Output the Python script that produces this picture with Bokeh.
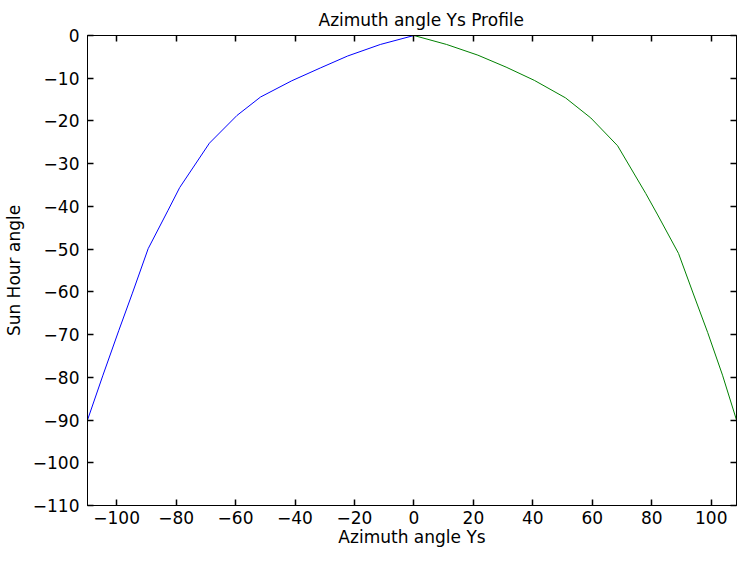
from bokeh.plotting import figure
from bokeh.models import Range1d, LinearAxis, FixedTicker
from bokeh.embed import file_html
from bokeh.resources import INLINE

# Data
blue_x = [-109.8, -104.6, -99.3, -94.7, -89.4, -82.7, -78.8, -68.8, -59.5, -51.6, -41.1, -31.5, -22.3, -11.3, 0]
blue_y = [-90, -79.5, -69.1, -60.3, -49.9, -40.9, -35.6, -25.2, -18.7, -14.4, -10.6, -7.6, -4.8, -2.1, 0]
green_x = [0, 11, 21.5, 31, 40.5, 51, 59.5, 68.5, 78, 82, 89, 94, 98.8, 103.8, 108.5]
green_y = [0, -2.1, -4.6, -7.4, -10.5, -14.6, -19.3, -25.8, -37, -42, -51, -60.5, -69.5, -79.5, -90]

x_ticks = [-100, -80, -60, -40, -20, 0, 20, 40, 60, 80, 100]
y_ticks = [0, -10, -20, -30, -40, -50, -60, -70, -80, -90, -100, -110]

title_text = "Azimuth angle Ys Profile"
x_label = "Azimuth angle Ys"
y_label = "Sun Hour angle"

FONT = "DejaVu Sans"
FS = "17px"

p = figure(width=737, height=549, output_backend="svg", toolbar_location=None,
           x_range=Range1d(-109.8, 108.5), y_range=Range1d(-110, 0),
           x_axis_location=None, y_axis_location=None,
           min_border_left=87, min_border_right=1, min_border_top=35, min_border_bottom=44)

p.title.text = title_text
p.title.align = "left"
p.title.offset = 231
p.title.text_font = FONT
p.title.text_font_size = FS
p.title.text_font_style = "normal"
p.title.text_color = "black"
p.title.standoff = 11

p.background_fill_color = "white"
p.border_fill_color = "white"
p.outline_line_color = "black"
p.outline_line_width = 1
p.xgrid.visible = False
p.ygrid.visible = False


def style(ax, ticks, labels=True):
    ax.ticker = FixedTicker(ticks=ticks)
    ax.major_tick_in = 6
    ax.major_tick_out = 0
    ax.major_tick_line_width = 1.5
    ax.minor_tick_line_color = None
    ax.axis_line_color = "black"
    ax.axis_line_width = 1
    ax.major_tick_line_color = "black"
    ax.major_label_text_font = FONT
    if labels:
        ax.major_label_text_font_size = FS
        ax.major_label_text_color = "black"
        ax.major_label_standoff = 8
    else:
        ax.major_label_text_font_size = "1px"
        ax.major_label_text_color = None
        ax.major_label_standoff = 0
    ax.axis_label_text_font = FONT
    ax.axis_label_text_font_size = FS
    ax.axis_label_text_font_style = "normal"
    ax.axis_label_text_color = "black"


bottom = LinearAxis(axis_label=x_label)
style(bottom, x_ticks)
bottom.major_label_standoff = 5
bottom.axis_label_standoff = 0
p.add_layout(bottom, "below")

left = LinearAxis(axis_label=y_label)
style(left, y_ticks)
left.axis_label_standoff = 6
p.add_layout(left, "left")

top = LinearAxis()
style(top, x_ticks, labels=False)
p.add_layout(top, "above")

right = LinearAxis()
style(right, y_ticks, labels=False)
p.add_layout(right, "right")

p.line(blue_x, blue_y, line_color="#0000ff", line_width=1)
p.line(green_x, green_y, line_color="#008000", line_width=1)

open("out.html", "w").write(file_html(p, INLINE))
